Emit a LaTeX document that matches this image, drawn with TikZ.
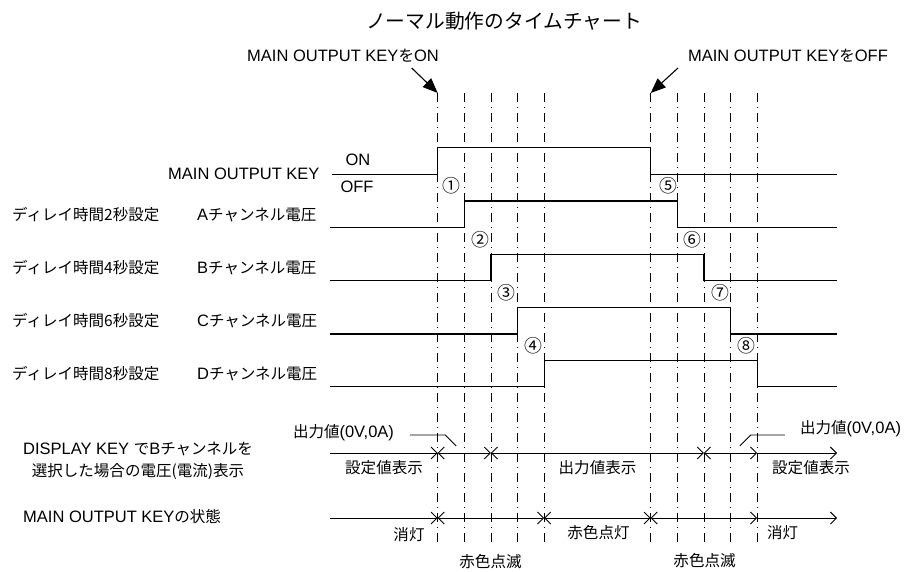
\documentclass[tikz,border=0pt]{standalone}
\usepackage{fontspec}
\setmainfont{Liberation Sans}
\newfontfamily\jpfont{Noto Sans CJK JP}[Scale=0.94]
\newcommand{\jp}[1]{{\jpfont #1}}
\usetikzlibrary{arrows.meta,positioning}

\begin{document}
\begin{tikzpicture}[x=1pt,y=-1pt,
  txt/.style={inner sep=0pt, font=\fontsize{16.5}{22}\selectfont},
  ttl/.style={inner sep=0pt, font=\jpfont\fontsize{21}{24}\selectfont},
  num/.style={inner sep=0pt, font=\jpfont\fontsize{19}{22}\selectfont},
  sig/.style={line width=1.2pt},
  tick/.style={line width=0.8pt, dash pattern=on 9pt off 5pt on 1pt off 5pt},
  span/.style={line width=0.9pt},
  ptr/.style={line width=1.1pt, -{Triangle[length=15pt,width=12pt]}},
  >={Straight Barb[length=6pt,width=12pt]},
]
\useasboundingbox (0,0) rectangle (912,571);

\node[ttl] (title) at (504,21) {ノーマル動作のタイムチャート};

% time marks (2 s steps after ON and after OFF)
\foreach \i/\x in {0/437.7,1/464.3,2/490.9,3/517.5,4/544.1,5/650.7,6/677.3,7/703.9,8/730.5,9/757.1}
  \draw[tick] (\x,93) coordinate (t\i) -- (\x,545) coordinate (b\i);

\node[txt] (keyon) at (343,55.5) {MAIN OUTPUT KEY\jp{を}ON};
\node[txt] (keyoff) at (788,55.5) {MAIN OUTPUT KEY\jp{を}OFF};
\coordinate (onfrom) at (411.7,68);
\coordinate (offfrom) at (678,68);
\draw[ptr] (onfrom) -- (t0);
\draw[ptr] (offfrom) -- (t5);

% key signal
\node[txt, anchor=west] (mok) at (168,174.3) {MAIN OUTPUT KEY};
\node[txt] (on) at (358,160) {ON};
\node[txt] (off) at (357,187) {OFF};
\draw[sig] (331.7,174.3) -| (t0 |- 0,147.7) -| (t5 |- 0,174.3) -- (837.3,174.3);

% channel signals
\foreach \n/\c/\y in {2/A/215, 4/B/268, 6/C/321, 8/D/374} {
  \node[txt, anchor=west] (dly\n) at (12,\y) {\jp{ディレイ時間\n 秒設定}};
  \node[txt, anchor=west] (ch\c) at (197,\y) {\c\jp{チャンネル電圧}};
}
\foreach \lo/\hi/\up/\dn in {227.7/201/464.3/677.3, 280.7/254.3/490.9/703.9,
                             334/307.7/517.5/730.5, 386.7/360.7/544.1/757.1}
  \draw[sig] (330,\lo) -- (\up,\lo) -- (\up,\hi) -- (\dn,\hi) -- (\dn,\lo) -- (837.3,\lo);

\foreach \s/\x/\y [count=\i] in {①/451.7/186, ②/480/240, ③/506/293, ④/533/346,
                                 ⑤/668/186, ⑥/692.7/240, ⑦/720/293, ⑧/746/346}
  \node[num] (num\i) at (\x,\y) {\s};

% display row
\node[txt, align=center] (dsplbl) at (138,461)
  {DISPLAY KEY \jp{で}B\jp{チャンネルを}\\\jp{選択した場合の電圧(電流)表示}};
\coordinate (d0) at (330,453);
\coordinate (dE) at (837,453);
\draw[span,->] (d0) -- (t0 |- d0);
\draw[span,<->] (t0 |- d0) -- (t2 |- d0);
\draw[span,<->] (t2 |- d0) -- (t7 |- d0);
\draw[span,<->] (t7 |- d0) -- (t9 |- d0);
\draw[span,->] (t9 |- d0) -- (dE);
\node[txt] (out1) at (343.5,433) {\jp{出力値}(0V,0A)};
\node[txt] (out2) at (850.5,429) {\jp{出力値}(0V,0A)};
\draw[span] ([shift={(16,2)}]out1.east) -- ++(35,0) -- ++(11,11);
\draw[span] ([shift={(-15,6)}]out2.west) -- ++(-34,0) -- ++(-11,11);
\node[txt] (set1) at (384,468) {\jp{設定値表示}};
\node[txt] (outv) at (597.5,468) {\jp{出力値表示}};
\node[txt] (set2) at (811,468) {\jp{設定値表示}};

% key lamp row
\node[txt, anchor=west] (stlbl) at (23,517) {MAIN OUTPUT KEY\jp{の状態}};
\coordinate (s0) at (330,518);
\coordinate (sE) at (837,518);
\draw[span,->] (s0) -- (t0 |- s0);
\draw[span,<->] (t0 |- s0) -- (t4 |- s0);
\draw[span,<->] (t4 |- s0) -- (t5 |- s0);
\draw[span,<->] (t5 |- s0) -- (t9 |- s0);
\draw[span,->] (t9 |- s0) -- (sE);
\node[txt] (off1) at (409,535) {\jp{消灯}};
\node[txt] (lit) at (598.5,533) {\jp{赤色点灯}};
\node[txt] (off2) at (782.5,533) {\jp{消灯}};
\node[txt] (blk1) at (490.5,561.5) {\jp{赤色点滅}};
\node[txt] (blk2) at (704.5,561) {\jp{赤色点滅}};
\end{tikzpicture}
\end{document}
